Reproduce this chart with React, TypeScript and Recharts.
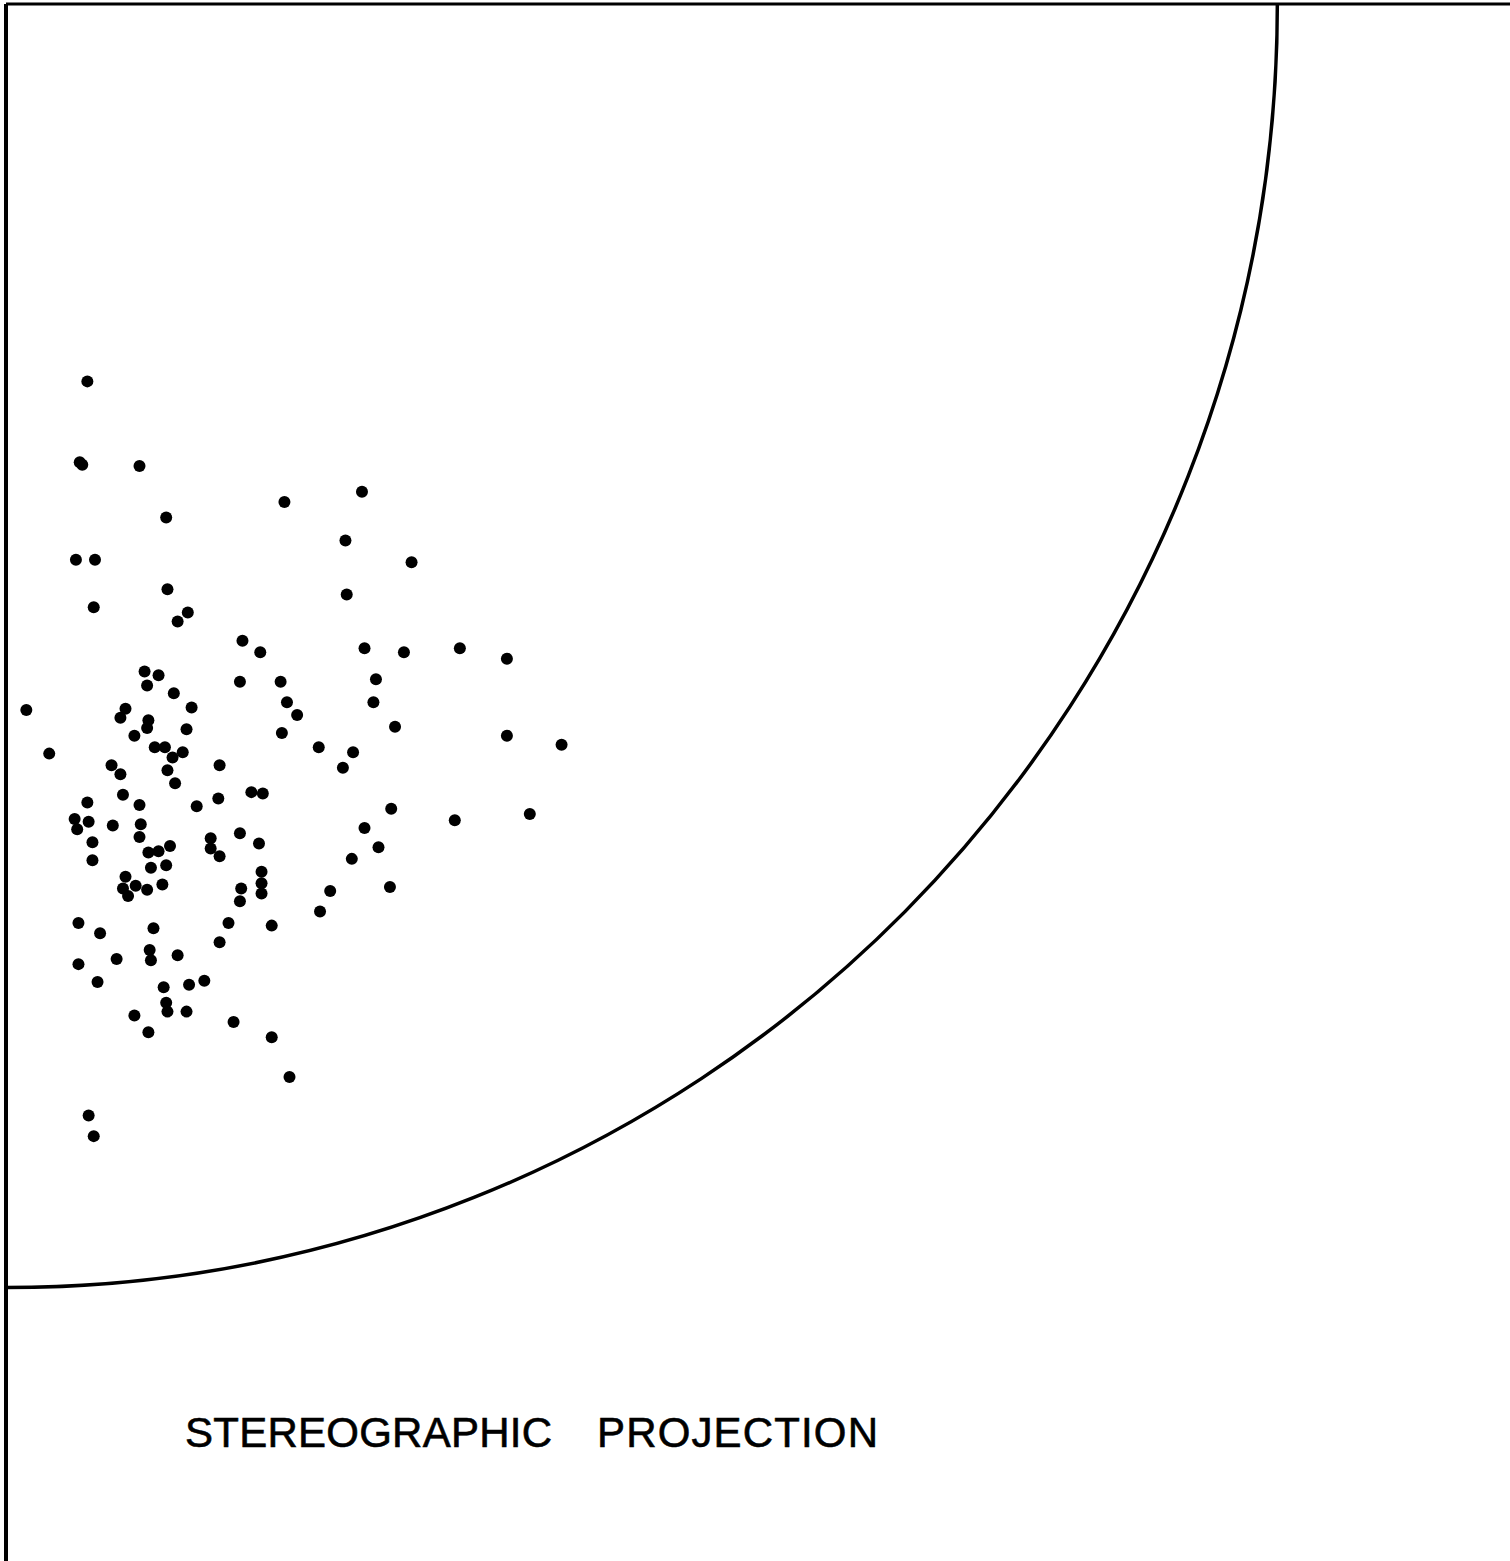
import React from 'react';
import {
  ScatterChart, Scatter, XAxis, YAxis, ReferenceLine, ReferenceArea
} from 'recharts';

// net radius = 100 units, origin at the centre of the net (top-left corner)
const NET_RADIUS = 100;
const X_EXTENT = 118.3;
const Y_EXTENT = 121.3;

const TITLE_LEFT = 'STEREOGRAPHIC';
const TITLE_RIGHT = 'PROJECTION';

// plotted poles [x, y], y measured downward from the top edge
const poles: [number, number][] = [
  [6.4, 29.4], [5.8, 35.7], [6.0, 35.9], [10.5, 36.0], [21.9, 38.8],
  [12.6, 40.0], [5.5, 43.3], [7.0, 43.3], [12.7, 45.6], [6.9, 47.0],
  [14.3, 47.4], [13.5, 48.1], [28.0, 38.0], [26.7, 41.8], [31.9, 43.5],
  [26.8, 46.0], [28.2, 50.2], [31.3, 50.5], [35.7, 50.2], [39.4, 51.0],
  [21.6, 52.8], [29.1, 52.6], [18.6, 49.6], [20.0, 50.5], [18.4, 52.8],
  [14.6, 54.8], [22.1, 54.4], [22.9, 55.4], [28.9, 54.4], [14.2, 56.5],
  [21.7, 56.8], [30.6, 56.3], [39.4, 57.0], [43.7, 57.7], [13.9, 58.3],
  [24.6, 57.9], [27.3, 58.3], [26.5, 59.5], [16.8, 59.3], [19.3, 61.4],
  [20.2, 61.5], [16.7, 61.9], [15.0, 62.5], [30.3, 62.7], [41.2, 63.1],
  [35.3, 63.6], [28.2, 64.2], [18.4, 64.6], [16.1, 65.0], [16.1, 65.8],
  [19.9, 65.4], [29.3, 65.7], [16.8, 66.4], [27.2, 66.6], [10.9, 52.0],
  [12.0, 52.3], [11.1, 53.1], [13.2, 53.7], [1.6, 55.0], [9.4, 54.9],
  [9.0, 55.6], [11.2, 55.8], [11.1, 56.4], [10.1, 57.0], [11.7, 57.9],
  [12.5, 57.9], [13.1, 58.7], [3.4, 58.4], [8.3, 59.3], [9.0, 60.0],
  [12.7, 59.7], [13.3, 60.7], [9.2, 61.6], [6.4, 62.2], [10.5, 62.4],
  [5.4, 63.5], [6.5, 63.7], [5.6, 64.3], [8.4, 64.0], [10.6, 63.9],
  [10.5, 64.9], [6.8, 65.3], [12.9, 65.6], [11.2, 66.1], [12.0, 66.0],
  [6.8, 66.7], [11.4, 67.3], [12.6, 67.1], [9.4, 68.0], [9.2, 68.9],
  [10.2, 68.7], [11.1, 69.0], [12.3, 68.6], [9.6, 69.5], [5.7, 71.6],
  [7.4, 72.4], [11.6, 72.0], [11.3, 73.7], [11.4, 74.5], [13.5, 74.1],
  [5.7, 74.8], [8.7, 74.4], [7.2, 76.2], [12.4, 76.6], [14.4, 76.4],
  [12.6, 77.8], [12.7, 78.5], [14.2, 78.5], [10.1, 78.8], [11.2, 80.1],
  [6.5, 86.6], [6.9, 88.2], [20.1, 67.6], [20.1, 68.5], [20.1, 69.3],
  [18.5, 68.9], [18.4, 69.9], [25.5, 69.1], [30.2, 68.8], [24.7, 70.7],
  [17.5, 71.6], [20.9, 71.8], [16.8, 73.1], [15.6, 76.1], [17.9, 79.3],
  [20.9, 80.5], [22.3, 83.6],
];

const data = poles.map(([x, y]) => ({ x, y }));

// quarter of the primitive circle, centred on the top-left corner of the area
const PrimitiveArc = (props: any) => {
  const { x, y, width, height } = props;
  const d = `M ${x},${y + height} A ${width},${height} 0 0 0 ${x + width},${y}`;
  return <path d={d} fill="none" stroke="#000" strokeWidth={3.5} />;
};

const Dot = (props: any) => <circle cx={props.cx} cy={props.cy} r={6} fill="#000" />;

export default function App() {
  return (
    <div style={{ position: 'relative', width: 1510, height: 1561, background: '#fff' }}>
      <style>{'body{margin:0}'}</style>
      <ScatterChart width={1510} height={1561} margin={{ top: 4, left: 6, right: 0, bottom: 0 }}>
        <XAxis type="number" dataKey="x" domain={[0, X_EXTENT]} allowDataOverflow hide />
        <YAxis type="number" dataKey="y" domain={[0, Y_EXTENT]} allowDataOverflow reversed hide />
        <ReferenceArea
          x1={0}
          x2={NET_RADIUS}
          y1={0}
          y2={NET_RADIUS}
          shape={PrimitiveArc}
        />
        <ReferenceLine x={0} stroke="#000" strokeWidth={4} />
        <ReferenceLine y={0} stroke="#000" strokeWidth={3} />
        <Scatter data={data} shape={Dot} isAnimationActive={false} />
      </ScatterChart>
      <svg
        width={1510}
        height={1561}
        style={{ position: 'absolute', left: 0, top: 0, pointerEvents: 'none' }}
      >
        <g fontFamily="Liberation Sans, Arial, sans-serif" fontSize={42} fill="#000" stroke="#000" strokeWidth={0.6}>
          <text x={185} y={1447} textLength={367} lengthAdjust="spacing">{TITLE_LEFT}</text>
          <text x={597} y={1447} textLength={281} lengthAdjust="spacing">{TITLE_RIGHT}</text>
        </g>
      </svg>
    </div>
  );
}
